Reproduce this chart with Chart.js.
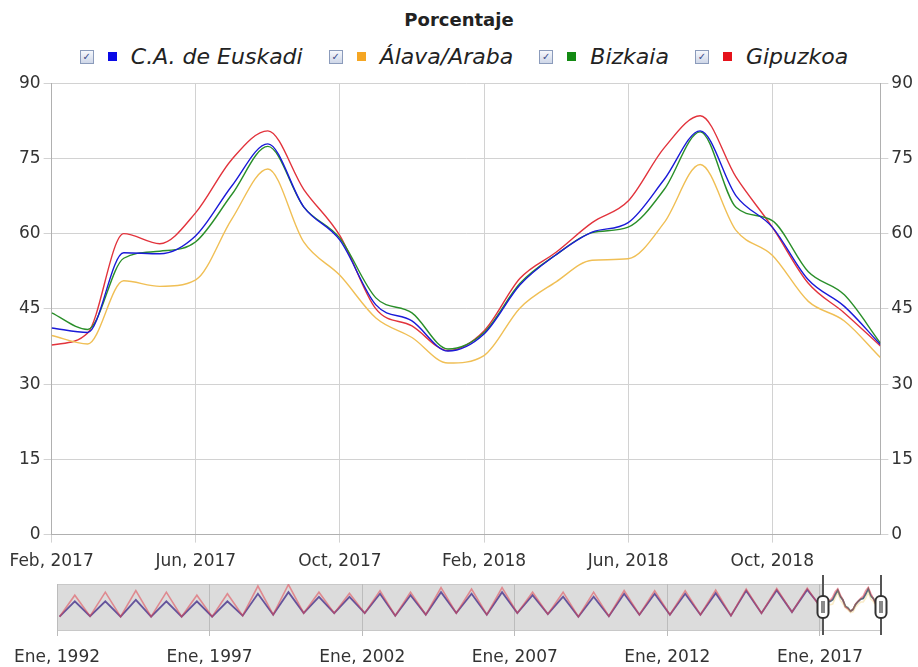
<!DOCTYPE html>
<html>
<head>
<meta charset="utf-8">
<script src="https://cdn.jsdelivr.net/npm/chart.js@4.4.0/dist/chart.umd.min.js"></script>
<style>
    body { margin: 0; background: #fff; width: 918px; height: 667px; overflow: hidden; position: relative; font-family: "DejaVu Sans", sans-serif; }
    #titulo { position: absolute; top: 9px; left: 0; width: 918px; text-align: center; font-weight: bold; font-size: 18px; color: #222; }
    #leyenda { position: absolute; top: 44px; left: 5px; width: 918px; display: flex; justify-content: center; }
    .item { display: flex; align-items: center; margin: 0 13px; font-style: italic; font-size: 22px; color: #222; }
    .check { width: 12px; height: 12px; border: 1px solid #8b9bbb; background: linear-gradient(#f6f8fc, #cfd7e8); margin-right: 14px;
             font-size: 10px; line-height: 12px; text-align: center; color: #3a4a8a; font-style: normal; font-weight: bold; }
    .sq { width: 9px; height: 9px; margin-right: 14px; }
    #main { position: absolute; left: 0; top: 70px; }
    #nav { position: absolute; left: 0; top: 572px; }
</style>
</head>
<body>
<div id="titulo">Porcentaje</div>
<div id="leyenda"></div>
<canvas id="main" width="918" height="514"></canvas>
<canvas id="nav" width="918" height="104"></canvas>
<script>
// meses mostrados (Feb 2017 - Ene 2019)
const meses = ['Feb, 2017', 'Mar, 2017', 'Abr, 2017', 'May, 2017', 'Jun, 2017', 'Jul, 2017', 'Ago, 2017', 'Sep, 2017',
    'Oct, 2017', 'Nov, 2017', 'Dic, 2017', 'Ene, 2018', 'Feb, 2018', 'Mar, 2018', 'Abr, 2018', 'May, 2018',
    'Jun, 2018', 'Jul, 2018', 'Ago, 2018', 'Sep, 2018', 'Oct, 2018', 'Nov, 2018', 'Dic, 2018', 'Ene, 2019']

const series = ['C.A. de Euskadi', 'Álava/Araba', 'Bizkaia', 'Gipuzkoa']
const euskadi = [41.2, 40.3, 56.2, 56.0, 59.6, 69.5, 77.9, 65.3, 58.7, 45.8, 42.6, 36.6, 40.0, 49.8, 55.8, 60.3, 62.2, 70.8, 80.5, 67.5, 61.3, 50.8, 45.5, 37.9]
const alava = [39.7, 38.0, 50.6, 49.5, 50.8, 62.9, 72.9, 58.3, 51.7, 43.2, 39.3, 34.2, 35.7, 45.2, 50.4, 54.7, 55.0, 62.2, 73.8, 60.6, 55.7, 46.5, 42.6, 35.3]
const bizkaia = [44.2, 40.9, 55.1, 56.5, 58.4, 67.8, 77.4, 65.3, 59.1, 47.2, 44.2, 37.0, 40.3, 50.1, 55.8, 60.2, 61.3, 68.8, 80.3, 65.2, 62.6, 52.4, 47.8, 38.2]
const gipuzkoa = [37.8, 40.2, 60.0, 58.0, 64.2, 74.8, 80.5, 68.8, 59.6, 45.0, 41.6, 36.7, 40.6, 51.1, 56.3, 62.2, 66.5, 77.1, 83.5, 71.2, 61.3, 50.1, 44.2, 37.6]
const yTicks = [0, 15, 30, 45, 60, 75, 90]

// navegador: 1992-2016, valle (feb) y pico (ago) de cada año
const navInicio = 1992
const navValle = [26, 27, 26, 26, 26, 26, 28, 30, 33, 33, 33, 28, 30, 33, 30, 33, 31, 26, 27, 30, 30, 30, 28, 33, 35]
const navPicoEus = [56, 56, 59, 56, 56, 56, 71, 74, 65, 65, 71, 68, 74, 71, 74, 68, 65, 65, 71, 71, 71, 72, 77, 78, 79]
const navPicoGip = [68, 74, 77, 74, 68, 71, 86, 89, 74, 72, 77, 74, 83, 80, 83, 74, 74, 74, 77, 77, 77, 78, 80, 81, 82]
const navTicks = ['Ene, 1992', 'Ene, 1997', 'Ene, 2002', 'Ene, 2007', 'Ene, 2012', 'Ene, 2017']

const colores = ['#1a1ad8', '#f0bf55', '#2a8f2a', '#e2333c']
const coloresLeyenda = ['#0a0ae6', '#f5a623', '#138a13', '#e5121b']

// leyenda con casillas
const leyenda = document.getElementById('leyenda')
series.forEach((nombre, i) => {
    const item = document.createElement('div')
    item.className = 'item'
    item.innerHTML = '<span class="check">&#10003;</span><span class="sq" style="background:' + coloresLeyenda[i] + '"></span>' + nombre
    leyenda.appendChild(item)
})

Chart.defaults.font.family = '"DejaVu Sans", sans-serif'
Chart.defaults.font.size = 17
Chart.defaults.color = '#333'

const toPoints = arr => arr.map((v, i) => ({ x: i, y: v }))
const valores = [euskadi, alava, bizkaia, gipuzkoa]

const mainDatasets = valores.map((arr, i) => ({
    label: series[i],
    data: toPoints(arr),
    borderColor: colores[i],
    borderWidth: 1.4,
    pointRadius: 0,
    fill: false,
    cubicInterpolationMode: 'monotone'
}))

const gridColor = '#d2d2d2'
const yTickCb = v => yTicks.includes(v) ? v : ''

new Chart(document.getElementById('main'), {
    type: 'line',
    data: { datasets: mainDatasets },
    options: {
        responsive: false,
        animation: false,
        layout: { padding: { left: 16, right: 2, top: 13, bottom: 3 } },
        plugins: { legend: { display: false }, tooltip: { enabled: false } },
        scales: {
            x: {
                type: 'linear', min: 0, max: meses.length - 1,
                ticks: { stepSize: 4, includeBounds: false, maxRotation: 0, padding: 9,
                    callback: v => meses[v] },
                grid: { color: gridColor, tickLength: 8 },
                border: { color: '#b0b0b0' }
            },
            y: {
                min: 0, max: 90,
                ticks: { stepSize: 15, callback: yTickCb, padding: 3 },
                grid: { color: gridColor, tickLength: 8 },
                border: { color: '#b0b0b0' }
            },
            y2: {
                position: 'right', min: 0, max: 90,
                ticks: { stepSize: 15, callback: yTickCb, padding: 3 },
                grid: { drawOnChartArea: false, color: gridColor, tickLength: 8 },
                border: { color: '#b0b0b0' }
            }
        }
    }
})

// datos del navegador
const mesInicio = (2017 - navInicio) * 12 + 1
const navEus = [], navGip = []
navValle.forEach((v, k) => {
    navEus.push({ x: k * 12 + 1, y: v }, { x: k * 12 + 7, y: navPicoEus[k] })
    navGip.push({ x: k * 12 + 1, y: v }, { x: k * 12 + 7, y: navPicoGip[k] })
})
euskadi.forEach((v, i) => navEus.push({ x: mesInicio + i, y: v }))
gipuzkoa.forEach((v, i) => navGip.push({ x: mesInicio + i, y: v }))
const navAla = alava.map((v, i) => ({ x: mesInicio + i, y: v }))
const navBiz = bizkaia.map((v, i) => ({ x: mesInicio + i, y: v }))
const mesFin = mesInicio + meses.length - 1

const navPlugin = {
    id: 'seleccion',
    beforeDraw(chart) {
        const { ctx, chartArea: a, scales } = chart
        const x0 = scales.x.getPixelForValue(mesInicio)
        ctx.save()
        ctx.fillStyle = '#dcdcdc'
        ctx.fillRect(a.left, a.top, x0 - a.left, a.bottom - a.top)
        ctx.strokeStyle = '#c8c8c8'
        ctx.lineWidth = 1
        ctx.strokeRect(a.left + 0.5, a.top + 0.5, a.right - a.left, a.bottom - a.top)
        ctx.restore()
    },
    afterDraw(chart) {
        const { ctx, chartArea: a, scales } = chart
        const mid = (a.top + a.bottom) / 2
        ;[mesInicio, mesFin].forEach(m => {
            const x = Math.round(scales.x.getPixelForValue(m))
            ctx.save()
            ctx.strokeStyle = '#555'
            ctx.lineWidth = 2
            ctx.beginPath()
            ctx.moveTo(x, a.top - 9)
            ctx.lineTo(x, a.bottom + 5)
            ctx.stroke()
            ctx.fillStyle = '#fff'
            ctx.strokeStyle = '#333'
            ctx.beginPath()
            ctx.roundRect(x - 5.5, mid - 11, 11, 22, 5)
            ctx.fill()
            ctx.stroke()
            ctx.fillStyle = '#8a8a8a'
            ctx.fillRect(x - 2, mid - 6, 4, 12)
            ctx.restore()
        })
    }
}

const navDs = (data, color, w) => ({ data, borderColor: color, borderWidth: w, pointRadius: 0, fill: false })

new Chart(document.getElementById('nav'), {
    type: 'line',
    data: { datasets: [
        navDs(navAla, 'rgba(240,200,100,0.35)', 1.6),
        navDs(navBiz, 'rgba(40,140,40,0.3)', 1.6),
        navDs(navGip, 'rgba(226,70,80,0.55)', 1.6),
        navDs(navEus, 'rgba(70,50,140,0.8)', 1.8)
    ] },
    options: {
        responsive: false,
        animation: false,
        layout: { padding: { left: 57, right: 37, top: 12, bottom: 0 } },
        plugins: { legend: { display: false }, tooltip: { enabled: false } },
        scales: {
            x: {
                type: 'linear', min: 0, max: mesFin,
                ticks: { stepSize: 60, includeBounds: false, maxRotation: 0, padding: 11,
                    callback: v => navTicks[v / 60] },
                grid: { color: '#bcbcbc', tickLength: 6 },
                border: { display: false }
            },
            y: { display: false, min: 0, max: 90 }
        }
    },
    plugins: [navPlugin]
})
</script>
</body>
</html>
